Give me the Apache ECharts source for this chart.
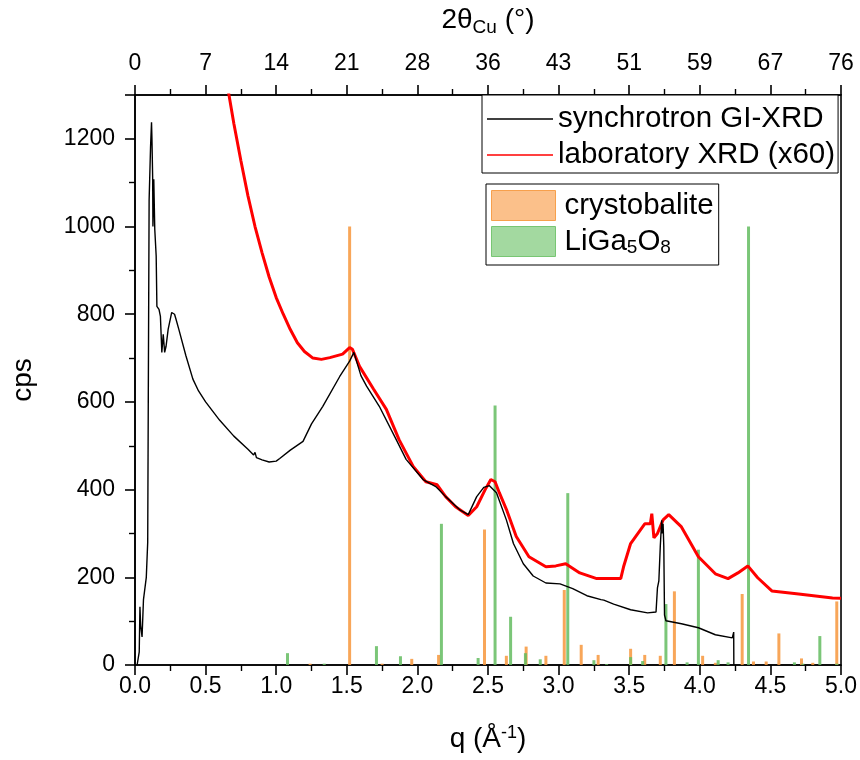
<!DOCTYPE html>
<html><head><meta charset="utf-8">
<script src="https://cdn.jsdelivr.net/npm/echarts@6/dist/echarts.min.js"></script>
<style>html,body{margin:0;padding:0;background:#fff}#c{width:860px;height:760px}</style>
</head><body><div id="c"></div>
<script>
// Top-axis labels (2theta Cu, degrees) at q = 0, 0.5, ..., 5.0
const twoThetaLabels = ['0','7','14','21','28','36','43','51','59','67','76'];

// synchrotron GI-XRD
const synQ = [0.015,0.03,0.035,0.04,0.05,0.06,0.08,0.09,0.094,0.10,0.11,0.117,0.12,0.125,0.127,0.133,0.14,0.15,0.155,0.17,0.18,0.19,0.20,0.21,0.22,0.235,0.26,0.28,0.29,0.31,0.36,0.41,0.45,0.5,0.6,0.7,0.8,0.84,0.85,0.86,0.9,0.95,1.0,1.025,1.1,1.19,1.25,1.33,1.45,1.52,1.55,1.6,1.64,1.73,1.85,1.92,2.04,2.13,2.2,2.3,2.36,2.42,2.47,2.51,2.56,2.63,2.68,2.75,2.82,2.91,3.01,3.1,3.2,3.3,3.31,3.32,3.39,3.51,3.63,3.69,3.70,3.71,3.72,3.73,3.735,3.74,3.745,3.75,3.76,3.87,3.99,4.11,4.23,4.24,4.241];
const synCps = [0,30,133,90,64,149,200,280,600,1060,1180,1238,1200,1113,1000,1108,994,933,818,811,795,713,754,713,727,766,804,800,789,766,706,652,625,600,558,522,492,479,485,473,468,463,465,471,490,510,550,590,658,693,713,660,636,590,514,469,423,407,384,354,343,384,405,409,393,331,277,231,203,187,185,174,158,149,153,148,139,126,119,121,176,192,270,330,300,322,270,114,101,94,85,69,62,75,0];

// laboratory XRD (x60)
const labQ = [0.655,0.7,0.75,0.8,0.85,0.9,0.95,1.0,1.05,1.1,1.15,1.2,1.26,1.32,1.38,1.47,1.52,1.54,1.59,1.69,1.78,1.87,1.97,2.06,2.14,2.2,2.27,2.36,2.42,2.48,2.52,2.55,2.58,2.63,2.7,2.79,2.91,2.98,3.05,3.15,3.27,3.44,3.46,3.51,3.61,3.65,3.66,3.675,3.7,3.74,3.78,3.87,3.99,4.11,4.2,4.27,4.34,4.41,4.51,4.7,4.94,5.0];
const labCps = [1320,1235,1150,1070,1000,940,885,838,800,765,735,715,700,697,701,709,724,720,681,629,583,514,453,418,411,384,361,341,361,400,423,418,393,355,293,247,224,226,231,210,197,197,224,277,322,322,345,290,300,331,343,315,247,208,197,210,226,199,169,162,153,152];

// reference sticks: crystobalite
const cristQ = [1.24,1.52,1.75,1.96,2.15,2.475,2.63,2.77,2.91,3.04,3.16,3.28,3.51,3.61,3.72,3.82,4.02,4.11,4.30,4.38,4.47,4.56,4.72,4.80,4.97];
const cristI = [3,1000,3,14,23,309,21,42,21,171,46,23,37,23,21,168,21,5,162,8,8,72,15,5,145];

// reference sticks: LiGa5O8
const ligaQ = [1.08,1.34,1.71,1.88,2.17,2.43,2.55,2.66,2.765,2.87,3.065,3.25,3.34,3.51,3.595,3.76,3.91,3.99,4.13,4.20,4.345,4.67,4.73,4.85,4.97];
const ligaI = [27,3,43,20,322,16,592,110,27,13,392,11,2,18,9,139,6,263,11,6,1000,6,3,66,3];

const FONT = 'Liberation Sans, Arial, sans-serif';
const pairs = (xs, ys) => xs.map((x, i) => [x, ys[i]]);

const chart = echarts.init(document.getElementById('c'), null, {renderer: 'canvas'});
const axisLineStyle = {color: '#000', width: 1.6};
chart.setOption({
  animation: false,
  backgroundColor: '#fff',
  grid: {left: 135, right: 18, top: 95, bottom: 95, show: true, borderColor: '#000', borderWidth: 1.6, backgroundColor: 'transparent'},
  legend: [
    {
      orient: 'vertical', left: 482, top: 95,
      padding: [9, 3, 3, 5], itemGap: 6, itemWidth: 66, itemHeight: 1.6,
      borderColor: '#000', borderWidth: 1, backgroundColor: '#fff',
      textStyle: {fontFamily: FONT, fontSize: 29.5, color: '#000', lineHeight: 30},
      data: [
        {name: 'synchrotron GI-XRD', icon: 'rect', itemStyle: {color: '#000', borderWidth: 0}},
        {name: 'laboratory XRD (x60)', icon: 'rect', itemStyle: {color: '#ff0000', borderWidth: 0}}
      ]
    },
    {
      orient: 'vertical', left: 486, top: 184,
      padding: [6, 5, 8, 5], itemGap: 5, itemWidth: 64, itemHeight: 30,
      borderColor: '#000', borderWidth: 1, backgroundColor: '#fff',
      textStyle: {fontFamily: FONT, fontSize: 29.5, color: '#000', lineHeight: 30, padding: [0, 0, 0, 4],
        rich: {sub: {fontFamily: FONT, fontSize: 19, color: '#000', padding: [12, 0, 0, 0]}}},
      formatter: n => n === 'LiGa5O8' ? 'LiGa{sub|5}O{sub|8}' : n,
      data: [
        {name: 'crystobalite', icon: 'rect', itemStyle: {color: '#FBC08A', borderColor: '#F7A04C', borderWidth: 1}},
        {name: 'LiGa5O8', icon: 'rect', itemStyle: {color: '#A3D9A0', borderColor: '#78C673', borderWidth: 1}}
      ]
    }
  ],
  xAxis: [
    {
      type: 'value', position: 'bottom', min: 0, max: 5, interval: 0.5,
      axisLine: {show: true, onZero: false, lineStyle: axisLineStyle},
      axisTick: {show: true, inside: false, length: 10, lineStyle: {color: '#000', width: 1.6}},
      minorTick: {show: true, splitNumber: 2, length: 6, lineStyle: {color: '#000', width: 1.4}},
      splitLine: {show: false},
      axisLabel: {fontFamily: FONT, fontSize: 23, color: '#000', margin: 10, formatter: v => v.toFixed(1)},
      name: 'q (Å{sup|-1})', nameLocation: 'middle', nameGap: 59,
      nameTextStyle: {fontFamily: FONT, fontSize: 28, color: '#000',
        rich: {sup: {fontFamily: FONT, fontSize: 18, color: '#000', padding: [0, 0, 12, 0]}}}
    },
    {
      type: 'value', position: 'top', min: 0, max: 5, interval: 0.5,
      axisLine: {show: true, onZero: false, lineStyle: axisLineStyle},
      axisTick: {show: true, inside: false, length: 10, lineStyle: {color: '#000', width: 1.6}},
      minorTick: {show: true, splitNumber: 2, length: 6, lineStyle: {color: '#000', width: 1.4}},
      splitLine: {show: false},
      axisLabel: {fontFamily: FONT, fontSize: 23, color: '#000', margin: 20,
        formatter: v => twoThetaLabels[Math.round(v / 0.5)]},
      name: '2θ{sub|Cu} (°)', nameLocation: 'middle', nameGap: 58,
      nameTextStyle: {fontFamily: FONT, fontSize: 28, color: '#000',
        rich: {sub: {fontFamily: FONT, fontSize: 19, color: '#000', padding: [14, 0, 0, 0]}}}
    }
  ],
  yAxis: [
    {
      type: 'value', min: 0, max: 1300, interval: 200,
      axisLine: {show: true, onZero: false, lineStyle: axisLineStyle},
      axisTick: {show: true, inside: false, length: 10, lineStyle: {color: '#000', width: 1.6}},
      minorTick: {show: true, splitNumber: 2, length: 6, lineStyle: {color: '#000', width: 1.4}},
      splitLine: {show: false},
      axisLabel: {fontFamily: FONT, fontSize: 23, color: '#000', margin: 20, showMaxLabel: false,
        formatter: v => String(v)},
      name: 'cps', nameLocation: 'middle', nameGap: 98,
      nameTextStyle: {fontFamily: FONT, fontSize: 28, color: '#000'}
    }
  ],
  series: [
    {
      name: 'crystobalite', type: 'bar', xAxisIndex: 0, yAxisIndex: 0,
      barWidth: 3, barGap: '-100%', z: 1,
      itemStyle: {color: 'rgba(247,150,60,0.85)'},
      data: pairs(cristQ, cristI)
    },
    {
      name: 'LiGa5O8', type: 'bar', xAxisIndex: 0, yAxisIndex: 0,
      barWidth: 3, barGap: '-100%', z: 1,
      itemStyle: {color: 'rgba(100,188,96,0.85)'},
      data: pairs(ligaQ, ligaI)
    },
    {
      name: 'laboratory XRD (x60)', type: 'line', xAxisIndex: 0, yAxisIndex: 0,
      symbol: 'none', z: 3, clip: true,
      lineStyle: {color: '#ff0000', width: 3},
      itemStyle: {color: '#ff0000'},
      data: pairs(labQ, labCps)
    },
    {
      name: 'synchrotron GI-XRD', type: 'line', xAxisIndex: 0, yAxisIndex: 0,
      symbol: 'none', z: 4, clip: true,
      lineStyle: {color: '#000', width: 1.4},
      itemStyle: {color: '#000'},
      data: pairs(synQ, synCps)
    }
  ]
});
</script>
</body></html>
